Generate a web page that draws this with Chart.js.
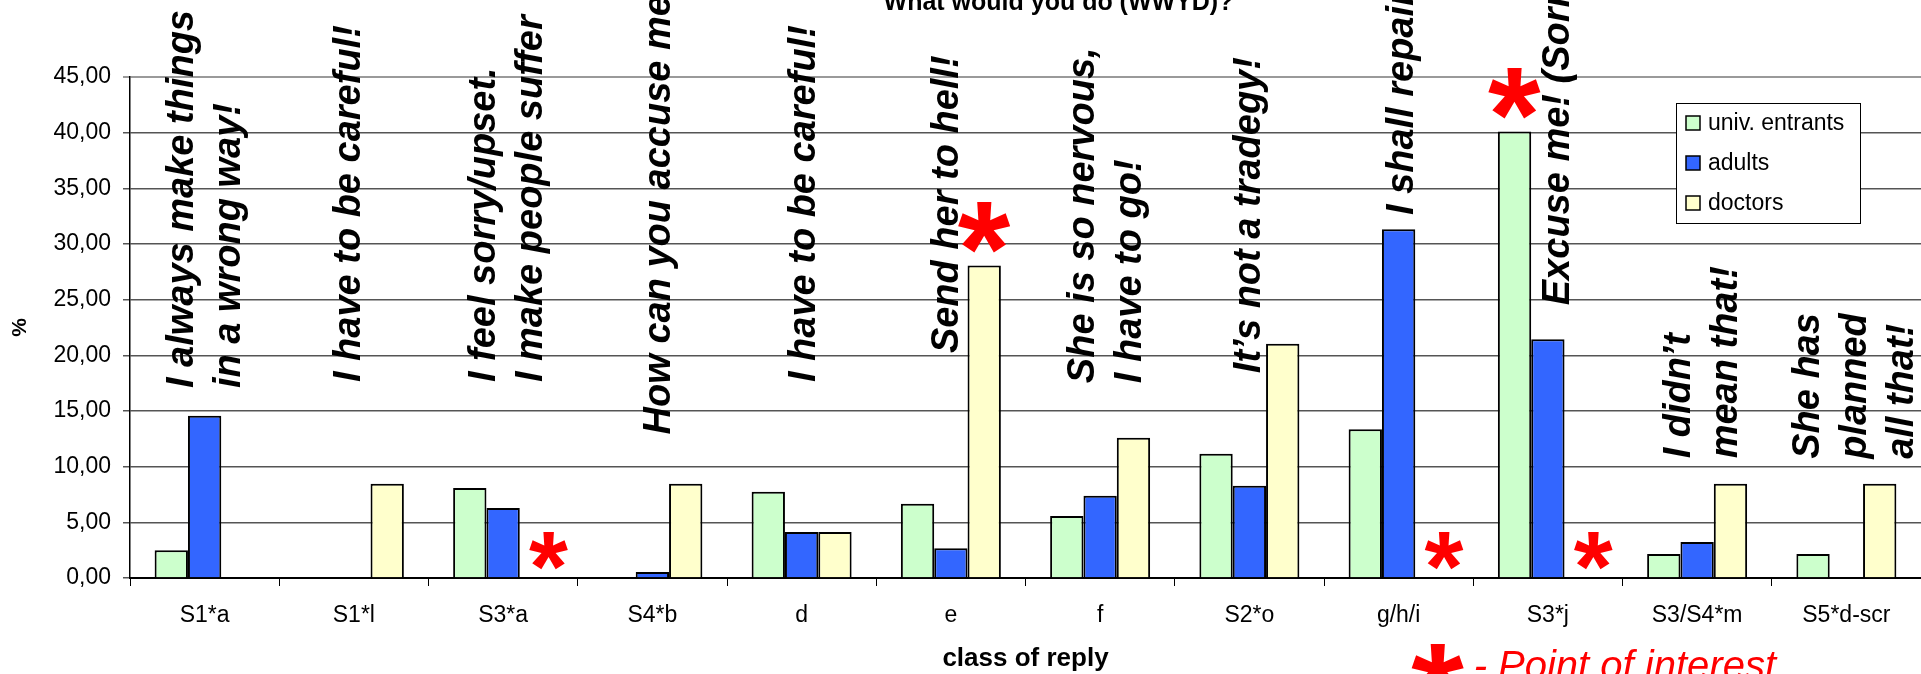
<!DOCTYPE html>
<html>
<head>
<meta charset="utf-8">
<title>What would you do (WWYD)?</title>
<script src="https://cdn.jsdelivr.net/npm/chart.js@4.4.1/dist/chart.umd.min.js"></script>
<style>
  html, body { margin: 0; padding: 0; background: #fff; }
  #wrap { width: 1921px; height: 674px; position: relative; }
</style>
</head>
<body>
<div id="wrap"><canvas id="wwydChart"></canvas></div>
<script>
// class of reply, % of each group
const categories = ["S1*a", "S1*l", "S3*a", "S4*b", "d", "e", "f", "S2*o", "g/h/i", "S3*j", "S3/S4*m", "S5*d-scr"];
const univEntrants = [2.49, 0, 8.09, 0, 7.75, 6.67, 5.58, 11.17, 13.36, 40.10, 2.16, 2.16];
const adults = [14.58, 0, 6.28, 0.54, 4.14, 2.67, 7.39, 8.29, 31.33, 21.44, 3.24, 0];
const doctors = [0, 8.47, 0, 8.47, 4.14, 28.06, 12.60, 21.05, 0, 0, 8.47, 8.47];
const yTickLabels = ["0,00", "5,00", "10,00", "15,00", "20,00", "25,00", "30,00", "35,00", "40,00", "45,00"];

// what people said for each class of reply
const replyNotes = [
  ["I always make things", "in a wrong way!"],
  ["I have to be careful!"],
  ["I feel sorry/upset.", "I make people suffer"],
  ["How can you accuse me?"],
  ["I have to be careful!"],
  ["Send her to hell!"],
  ["She is so nervous,", "I have to go!"],
  ["It\u2019s not a tradegy!"],
  ["I shall repair"],
  ["Excuse me! (Sorry!)"],
  ["I didn\u2019t", "mean that!"],
  ["She has", "planned", "all that!"]
];
// points of interest: [category index, series index]
const interestPoints = [[2, 2], [5, 2], [8, 2], [9, 0], [9, 2]];

// where each note sits: [x shift from category centre, value where text starts]
const notePlacement = [
  [-12, 17.06], [6, 17.6], [-8, 17.6], [18, 12.9], [13, 17.6], [7, 20.2],
  [-6, 17.5], [11, 18.4], [14, 32.6], [21, 24.5], [-7, 10.75], [-27, 10.7]
];

const FONT = '"Liberation Sans", Arial, Helvetica, sans-serif';
Chart.defaults.font.family = FONT;
Chart.defaults.color = "#000";

function drawStar(ctx, cx, cy, size) {
  ctx.font = "bold " + size + "px " + FONT;
  const m = ctx.measureText("*");
  const w = m.actualBoundingBoxLeft + m.actualBoundingBoxRight;
  const h = m.actualBoundingBoxAscent + m.actualBoundingBoxDescent;
  ctx.textAlign = "left";
  ctx.textBaseline = "alphabetic";
  ctx.fillText("*", cx - w / 2 + m.actualBoundingBoxLeft, cy - h / 2 + m.actualBoundingBoxAscent);
}

const notesPlugin = {
  id: "wwydNotes",
  afterDatasetsDraw(chart) {
    const { ctx, chartArea } = chart;
    const x = chart.scales.x;
    const y = chart.scales.y;
    ctx.save();

    // rotated quotes
    ctx.fillStyle = "#000";
    ctx.font = "italic bold 38px " + FONT;
    ctx.textAlign = "left";
    ctx.textBaseline = "alphabetic";
    replyNotes.forEach((lines, i) => {
      const bx = x.getPixelForValue(i) + notePlacement[i][0];
      const by = y.getPixelForValue(notePlacement[i][1]);
      lines.forEach((line, k) => {
        ctx.save();
        ctx.translate(bx + k * 47, by);
        ctx.rotate(-Math.PI / 2);
        ctx.fillText(line, 0, 0);
        ctx.restore();
      });
    });

    // red stars
    ctx.fillStyle = "#ff0000";
    interestPoints.forEach(([cat, ser]) => {
      const bar = chart.getDatasetMeta(ser).data[cat];
      const val = chart.data.datasets[ser].data[cat];
      if (val > 0) {
        drawStar(ctx, bar.x, bar.y - 38, 135);
      } else {
        drawStar(ctx, bar.x + 12, y.getPixelForValue(0) - 27, 100);
      }
    });

    // star note at the bottom
    drawStar(ctx, x.getPixelForValue(8) + 39, chart.height - 5, 135);
    ctx.font = "italic 40px " + FONT;
    ctx.textAlign = "left";
    ctx.textBaseline = "alphabetic";
    ctx.fillText("- Point of interest", x.getPixelForValue(8) + 75, chart.height + 5);

    // title, mostly cut off
    ctx.fillStyle = "#000";
    ctx.font = "bold 25px " + FONT;
    ctx.textAlign = "center";
    ctx.fillText("What would you do (WWYD)?", (chartArea.left + chartArea.right) / 2 + 33, 10);

    // legend box
    const lx = chartArea.right - 245;
    const ly = chartArea.top + 26;
    ctx.fillStyle = "#fff";
    ctx.fillRect(lx, ly, 184, 120);
    ctx.strokeStyle = "#000";
    ctx.lineWidth = 1;
    ctx.strokeRect(lx + 0.5, ly + 0.5, 184, 120);
    ctx.font = "23px " + FONT;
    ctx.textAlign = "left";
    ctx.textBaseline = "middle";
    chart.data.datasets.forEach((ds, i) => {
      const cy = ly + 20 + i * 40;
      ctx.fillStyle = ds.backgroundColor;
      ctx.fillRect(lx + 10, cy - 7, 14, 14);
      ctx.lineWidth = 1.5;
      ctx.strokeRect(lx + 10, cy - 7, 14, 14);
      ctx.fillStyle = "#000";
      ctx.fillText(ds.label, lx + 32, cy + 1);
    });

    ctx.restore();
  }
};

const ctx = document.getElementById("wwydChart");
const wwydChart = new Chart(ctx, {
  type: "bar",
  data: {
    labels: categories,
    datasets: [
      { label: "univ. entrants", data: univEntrants, backgroundColor: "#ccffcc" },
      { label: "adults", data: adults, backgroundColor: "#3366ff" },
      { label: "doctors", data: doctors, backgroundColor: "#ffffcc" }
    ]
  },
  options: {
    responsive: true,
    maintainAspectRatio: false,
    animation: false,
    layout: { padding: { top: 77, right: 0, bottom: 0, left: 0 } },
    datasets: {
      bar: {
        borderColor: "#000",
        borderWidth: 2,
        categoryPercentage: 0.67,
        barPercentage: 1.0
      }
    },
    plugins: {
      legend: { display: false },
      tooltip: { enabled: false }
    },
    scales: {
      x: {
        grid: {
          display: true,
          drawOnChartArea: false,
          drawTicks: true,
          tickLength: 8,
          color: "#000",
          offset: true
        },
        border: { color: "#000", width: 2 },
        ticks: { color: "#000", font: { size: 23 }, padding: 16, maxRotation: 0, autoSkip: false },
        title: {
          display: true,
          text: "class of reply",
          color: "#000",
          font: { size: 26, weight: "bold" },
          padding: { top: 0, bottom: 0 }
        },
        afterFit: (s) => { s.height = 96; }
      },
      y: {
        min: 0,
        max: 45,
        ticks: {
          stepSize: 5,
          color: "#000",
          font: { size: 23 },
          padding: 12,
          callback: (v, i) => yTickLabels[i]
        },
        grid: {
          color: (c) => (c.tick && c.tick.value === 45 ? "#9a9a9a" : "#555"),
          lineWidth: (c) => (c.tick && c.tick.value === 45 ? 2 : 1.5),
          tickLength: 7,
          drawTicks: true
        },
        border: { color: "#000", width: 1.5 },
        title: {
          display: true,
          text: "%",
          color: "#000",
          font: { size: 21, weight: "bold" },
          padding: { top: 8, bottom: 0 }
        },
        afterFit: (s) => { s.width = 130; }
      }
    }
  },
  plugins: [notesPlugin]
});
</script>
</body>
</html>
